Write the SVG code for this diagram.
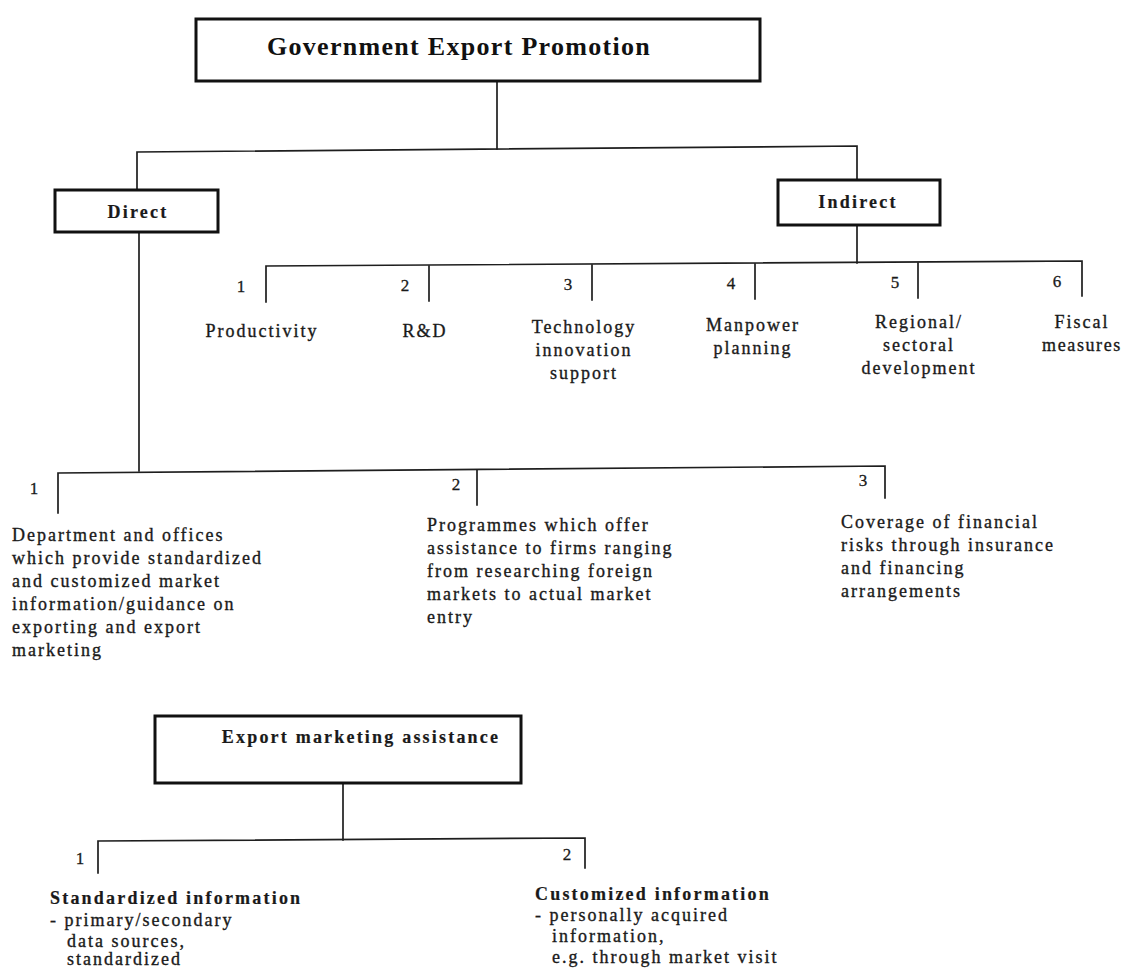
<svg xmlns="http://www.w3.org/2000/svg" width="1124" height="970" viewBox="0 0 1124 970">
  <style>
    .box { fill: #ffffff; stroke: #111; stroke-width: 3; }
    .ln { stroke: #1e1e1e; stroke-width: 1.7; fill: none; stroke-linecap: square; }
    .t { font-family: "Liberation Serif", "Times New Roman", serif; font-size: 18px; fill: #1a1a1a; stroke: #1a1a1a; stroke-width: 0.35; letter-spacing: 2px; }
    .b { font-weight: bold; letter-spacing: 2.2px; stroke-width: 0.2; }
    .title { font-family: "Liberation Serif", "Times New Roman", serif; font-size: 26px; font-weight: bold; fill: #111; letter-spacing: 1.3px; }
    .c { text-anchor: middle; }
    .n { font-family: "Liberation Serif", "Times New Roman", serif; font-size: 17px; fill: #1a1a1a; stroke: #1a1a1a; stroke-width: 0.3; text-anchor: middle; }
  </style>

  <!-- connectors -->
  <g id="connectors">
    <!-- root to Direct / Indirect -->
    <path class="ln" d="M497,81 V149"/>
    <path class="ln" d="M137,190 V152 L857,146 V180"/>
    <!-- Indirect branches -->
    <path class="ln" d="M857,225 V263"/>
    <path class="ln" d="M266,302 V266 L1082,261 V296"/>
    <path class="ln" d="M429,266 V301"/>
    <path class="ln" d="M592,265 V300"/>
    <path class="ln" d="M755,264 V299"/>
    <path class="ln" d="M918,263 V298"/>
    <!-- Direct branches -->
    <path class="ln" d="M139,232 V471"/>
    <path class="ln" d="M58,513 V473 L885,466 V498"/>
    <path class="ln" d="M477,470 V505"/>
    <!-- Export marketing assistance branches -->
    <path class="ln" d="M343,783 V840"/>
    <path class="ln" d="M98,873 V841 L585,838 V868"/>
  </g>

  <!-- Government Export Promotion -->
  <g id="root">
    <rect class="box" x="196" y="19" width="564" height="62"/>
    <text class="title c" x="459" y="55">Government Export Promotion</text>
  </g>

  <!-- Direct -->
  <g id="direct">
    <rect class="box" x="55" y="190" width="163" height="42"/>
    <text class="t b c" x="138" y="218">Direct</text>
  </g>

  <!-- Indirect -->
  <g id="indirect">
    <rect class="box" x="778" y="180" width="162" height="45"/>
    <text class="t b c" x="858" y="208">Indirect</text>
  </g>

  <!-- Indirect measures -->
  <g id="ind-1">
    <text class="n" x="241" y="292">1</text>
    <text class="t c" x="262" y="337">Productivity</text>
  </g>
  <g id="ind-2">
    <text class="n" x="405" y="291">2</text>
    <text class="t c" x="425" y="337">R&amp;D</text>
  </g>
  <g id="ind-3">
    <text class="n" x="568" y="290">3</text>
    <text class="t c" x="584" y="333">Technology</text>
    <text class="t c" x="584" y="356">innovation</text>
    <text class="t c" x="584" y="379">support</text>
  </g>
  <g id="ind-4">
    <text class="n" x="731" y="289">4</text>
    <text class="t c" x="753" y="331">Manpower</text>
    <text class="t c" x="753" y="354">planning</text>
  </g>
  <g id="ind-5">
    <text class="n" x="895" y="288">5</text>
    <text class="t c" x="919" y="328">Regional/</text>
    <text class="t c" x="919" y="351">sectoral</text>
    <text class="t c" x="919" y="374">development</text>
  </g>
  <g id="ind-6">
    <text class="n" x="1057" y="287">6</text>
    <text class="t c" x="1082" y="328">Fiscal</text>
    <text class="t c" x="1082" y="351" style="letter-spacing:1.6px">measures</text>
  </g>

  <!-- Direct measures -->
  <g id="dir-1">
    <text class="n" x="34" y="494">1</text>
    <text class="t" x="12">
      <tspan x="12" y="541">Department and offices</tspan>
      <tspan x="12" y="564">which provide standardized</tspan>
      <tspan x="12" y="587">and customized market</tspan>
      <tspan x="12" y="610">information/guidance on</tspan>
      <tspan x="12" y="633">exporting and export</tspan>
      <tspan x="12" y="656">marketing</tspan>
    </text>
  </g>
  <g id="dir-2">
    <text class="n" x="456" y="490">2</text>
    <text class="t" x="427">
      <tspan x="427" y="531">Programmes which offer</tspan>
      <tspan x="427" y="554">assistance to firms ranging</tspan>
      <tspan x="427" y="577">from researching foreign</tspan>
      <tspan x="427" y="600">markets to actual market</tspan>
      <tspan x="427" y="623">entry</tspan>
    </text>
  </g>
  <g id="dir-3">
    <text class="n" x="863" y="486">3</text>
    <text class="t" x="841">
      <tspan x="841" y="528">Coverage of financial</tspan>
      <tspan x="841" y="551">risks through insurance</tspan>
      <tspan x="841" y="574">and financing</tspan>
      <tspan x="841" y="597">arrangements</tspan>
    </text>
  </g>

  <!-- Export marketing assistance -->
  <g id="ema">
    <rect class="box" x="155" y="716" width="366" height="67"/>
    <text class="t b c" x="361" y="743">Export marketing assistance</text>
  </g>
  <g id="ema-1">
    <text class="n" x="80" y="864">1</text>
    <text class="t b" x="50" y="904">Standardized information</text>
    <text class="t">
      <tspan x="50" y="926">-  primary/secondary</tspan>
      <tspan x="67" y="947">data sources,</tspan>
      <tspan x="67" y="965">standardized</tspan>
    </text>
  </g>
  <g id="ema-2">
    <text class="n" x="567" y="860">2</text>
    <text class="t b" x="535" y="900">Customized information</text>
    <text class="t">
      <tspan x="535" y="921">-  personally acquired</tspan>
      <tspan x="552" y="942">information,</tspan>
      <tspan x="552" y="963">e.g. through market visit</tspan>
    </text>
  </g>
</svg>
